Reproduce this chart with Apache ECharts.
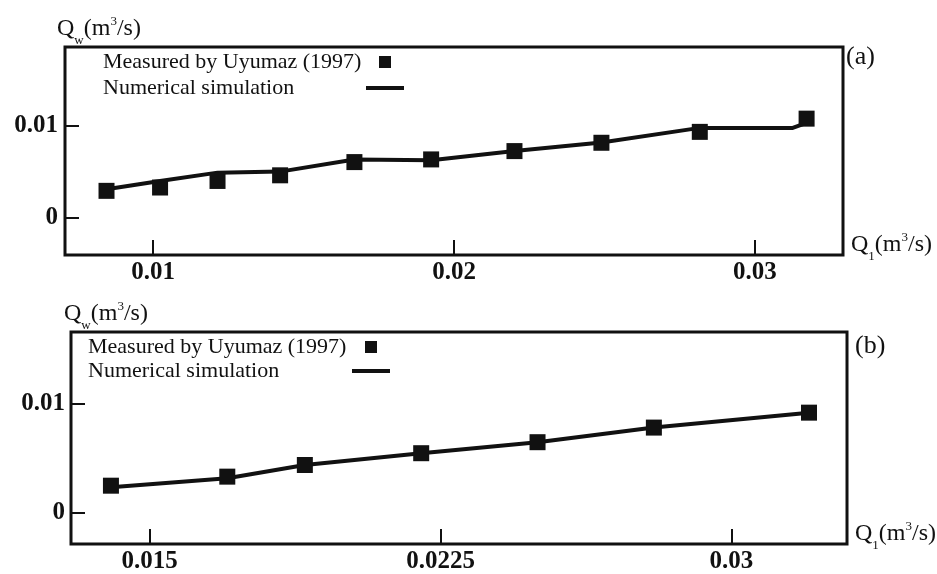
<!DOCTYPE html>
<html>
<head>
<meta charset="utf-8">
<script src="https://cdn.jsdelivr.net/npm/echarts@6/dist/echarts.min.js"></script>
<style>html,body{margin:0;padding:0;background:#fff;}#c{width:937px;height:574px;}</style>
</head>
<body>
<div id="c"></div>
<script>
// ---- data (panel a) ----
const measA_x = [0.00845, 0.01023, 0.01214, 0.01422, 0.01669, 0.01924, 0.02201, 0.0249, 0.02817, 0.03172];
const measA_y = [0.00294, 0.0033, 0.00401, 0.00462, 0.00605, 0.00634, 0.00724, 0.00814, 0.00932, 0.01075];
const simA_x = [0.00845, 0.01023, 0.01214, 0.01422, 0.01669, 0.01924, 0.02201, 0.0249, 0.02817, 0.03126, 0.03172];
const simA_y = [0.00312, 0.00401, 0.00491, 0.00502, 0.00634, 0.00624, 0.00724, 0.00817, 0.00975, 0.00975, 0.0103];
// ---- data (panel b) ----
const measB_x = [0.014, 0.017, 0.019, 0.022, 0.025, 0.028, 0.032];
const measB_y = [0.0025, 0.00333, 0.0044, 0.00548, 0.00649, 0.00783, 0.0092];
const simB_x = [0.014, 0.017, 0.019, 0.022, 0.025, 0.028, 0.032];
const simB_y = [0.00236, 0.00318, 0.0044, 0.00548, 0.00649, 0.00783, 0.0092];
// ---- ticks ----
const xTicksA = [0.01, 0.02, 0.03];
const xTickLabelsA = ['0.01', '0.02', '0.03'];
const xTicksB = [0.015, 0.0225, 0.03];
const xTickLabelsB = ['0.015', '0.0225', '0.03'];
const yTicks = [0, 0.01];
const yTickLabels = ['0', '0.01'];
const measName = 'Measured by Uyumaz (1997)';
const simName = 'Numerical simulation';

const pair = (xs, ys) => xs.map((x, i) => [x, ys[i]]);
const lab = (ticks, labels) => v => { const i = ticks.findIndex(t => Math.abs(t - v) < 1e-9); return i >= 0 ? labels[i] : ''; };

const serif = 'Liberation Serif';
const ink = '#111';
const nameRich = {
  n: { fontFamily: serif, fontSize: 24, color: ink, lineHeight: 28 },
  sub: { fontFamily: serif, fontSize: 13, color: ink, verticalAlign: 'bottom', lineHeight: 13, padding: [0, 0, -4, 0] },
  sup: { fontFamily: serif, fontSize: 13, color: ink, verticalAlign: 'top', lineHeight: 13 }
};
const yName = '{n|Q}{sub|w}{n|(m}{sup|3}{n|/s)}';
const xName = '{n|Q}{sub|1}{n|(m}{sup|3}{n|/s)}';

function xAxis(idx, min, max, ticks, labels) {
  return {
    type: 'value', gridIndex: idx, min: min, max: max,
    name: xName, nameLocation: 'end', nameGap: 8,
    nameTextStyle: { rich: nameRich, align: 'left', verticalAlign: 'bottom', padding: [0, 0, -4, 0] },
    axisLine: { show: false, onZero: false },
    splitLine: { show: false },
    axisTick: { show: true, inside: true, length: 15, customValues: ticks, lineStyle: { color: ink, width: 2 } },
    axisLabel: { customValues: ticks, formatter: lab(ticks, labels), margin: 5, color: ink, fontFamily: serif, fontWeight: 'bold', fontSize: 25 }
  };
}
function yAxis(idx, min, max, margin, nameOff) {
  return {
    type: 'value', gridIndex: idx, min: min, max: max,
    name: yName, nameLocation: 'end', nameGap: 4,
    nameTextStyle: { rich: nameRich, align: 'left', verticalAlign: 'bottom', padding: [0, 0, 0, nameOff] },
    axisLine: { show: false, onZero: false },
    splitLine: { show: false },
    axisTick: { show: true, inside: true, length: 14, customValues: yTicks, lineStyle: { color: ink, width: 2 } },
    axisLabel: { customValues: yTicks, formatter: lab(yTicks, yTickLabels), margin: margin, color: ink, fontFamily: serif, fontWeight: 'bold', fontSize: 25 }
  };
}
function legend(left, top, name, w, iw, ih) {
  return {
    left: left, top: top, orient: 'vertical', align: 'right', padding: 0,
    data: [name], itemWidth: iw, itemHeight: ih, selectedMode: false, icon: 'rect',
    itemStyle: { color: ink, opacity: 1 },
    formatter: n => '{t|' + n + '}',
    textStyle: { rich: { t: { width: w, align: 'left', fontFamily: serif, fontSize: 22, color: ink, lineHeight: 24 } } }
  };
}

const chart = echarts.init(document.getElementById('c'), null, { renderer: 'canvas' });
chart.setOption({
  backgroundColor: '#fff',
  animation: false,
  title: [
    { text: '(a)', left: 846, top: 44, padding: 0, textStyle: { fontFamily: serif, fontWeight: 'normal', fontSize: 26, color: ink } },
    { text: '(b)', left: 855, top: 333, padding: 0, textStyle: { fontFamily: serif, fontWeight: 'normal', fontSize: 26, color: ink } }
  ],
  grid: [
    { left: 65, top: 47, right: 94, bottom: 319, show: true, borderColor: ink, borderWidth: 3, backgroundColor: 'transparent' },
    { left: 71, top: 332, right: 87, bottom: 30, show: true, borderColor: ink, borderWidth: 3, backgroundColor: 'transparent' }
  ],
  xAxis: [
    xAxis(0, 0.00707, 0.03293, xTicksA, xTickLabelsA),
    xAxis(1, 0.01297, 0.03298, xTicksB, xTickLabelsB)
  ],
  yAxis: [
    yAxis(0, -0.004, 0.0185, 7, -8),
    yAxis(1, -0.00285, 0.0166, 6, -7)
  ],
  legend: [
    legend(103, 51, measName, 271, 12, 12),
    legend(103, 77, simName, 258, 38, 4),
    legend(88, 336, measName, 272, 12, 12),
    legend(88, 360, simName, 259, 38, 4)
  ],
  series: [
    { name: simName, type: 'line', xAxisIndex: 0, yAxisIndex: 0, data: pair(simA_x, simA_y), symbol: 'none', lineStyle: { color: ink, width: 4 }, itemStyle: { color: ink }, z: 2 },
    { name: measName, type: 'scatter', xAxisIndex: 0, yAxisIndex: 0, data: pair(measA_x, measA_y), symbol: 'rect', symbolSize: 16, itemStyle: { color: ink, opacity: 1 }, z: 3 },
    { name: simName, type: 'line', xAxisIndex: 1, yAxisIndex: 1, data: pair(simB_x, simB_y), symbol: 'none', lineStyle: { color: ink, width: 4 }, itemStyle: { color: ink }, z: 2 },
    { name: measName, type: 'scatter', xAxisIndex: 1, yAxisIndex: 1, data: pair(measB_x, measB_y), symbol: 'rect', symbolSize: 16, itemStyle: { color: ink, opacity: 1 }, z: 3 }
  ]
});
</script>
</body>
</html>
